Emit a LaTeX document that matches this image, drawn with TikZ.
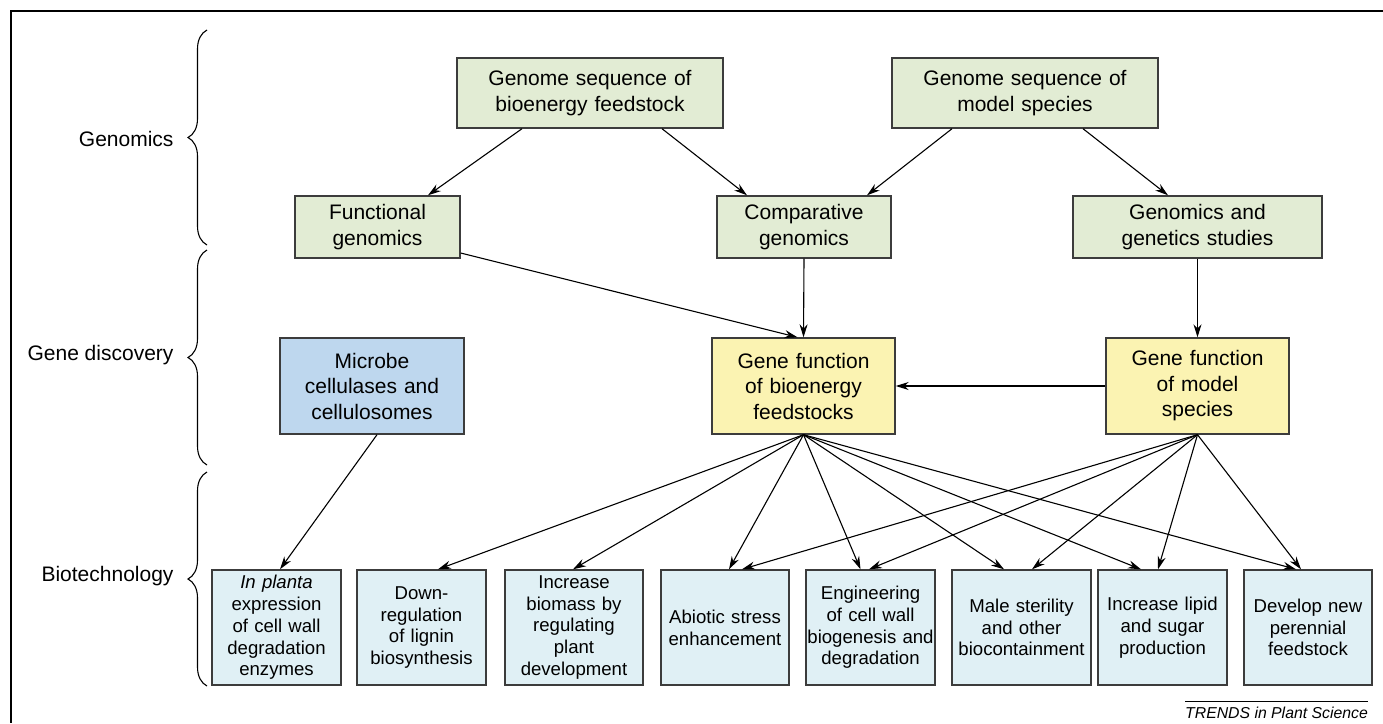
\documentclass[tikz,border=0pt]{standalone}
\usepackage{fontspec}
\setmainfont{Liberation Sans}
\usepackage[x11names]{xcolor}
\usetikzlibrary{arrows.meta}
\usetikzlibrary{decorations.pathreplacing}

\definecolor{genomegreen}{RGB}{226,236,212}
\definecolor{geneyellow}{RGB}{251,243,178}
\definecolor{microbeblue}{RGB}{190,215,238}
\definecolor{leafblue}{RGB}{224,240,245}
\definecolor{boxline}{RGB}{60,60,60}

\newcommand{\bigfont}{\fontsize{21}{25.5}\selectfont}
\newcommand{\smallfont}{\fontsize{18.6}{21.7}\selectfont}

\begin{document}
\begin{tikzpicture}[x=1pt,y=-1pt,
    box/.style={draw=boxline,line width=1.4pt,align=center,inner sep=0pt,font=\bigfont},
    seqbox/.style={box,fill=genomegreen},
    funcbox/.style={box,fill=geneyellow},
    leafbox/.style={draw=boxline,line width=1.4pt,fill=leafblue,align=center,
        inner sep=0pt,font=\smallfont,minimum height=115pt},
    arr/.style={-{Stealth[length=13pt,width=8pt]},line width=1.1pt},
    grp/.style={decorate,decoration={brace,amplitude=19pt},line width=1.1pt}]
        \useasboundingbox (0,0) rectangle (1383,723);
        \draw[line width=1.5pt] (10,11) -- (1383,11); \draw[line width=1.5pt]
        (11,11) -- (11,723);

        % row labels and braces
        \node[font=\bigfont,anchor=east] (labgenomics) at (177,139) {Genomics};
        \node[font=\bigfont,anchor=east] (labdiscovery) at (177,355) {Gene
            discovery}; \node[font=\bigfont,anchor=east] (labbiotech) at
        (177,576) {Biotechnology};
        \draw[grp] (207,245) -- (207,30); \draw[grp] (207,465) -- (207,250);
        \draw[grp] (207,686) -- (207,472);

        % genomics
        \node[seqbox,text width=266,minimum height=70] (seqbio) at (590,93)
        {Genome sequence of\\bioenergy feedstock}; \node[seqbox,text
        width=266,minimum height=70] (seqmodel) at (1025,93) {Genome sequence
            of\\model species}; \node[seqbox,text width=165,minimum height=62]
        (functional) at (377.5,227) {Functional\\genomics}; \node[seqbox,text
        width=174,minimum height=62] (comparative) at (804,227)
        {Comparative\\genomics}; \node[seqbox,text width=249,minimum height=62]
        (studies) at (1197.5,227) {Genomics and\\genetics studies};

        % gene discovery
        \node[box,fill=microbeblue,text width=184,minimum height=96] (microbe)
        at (372,386) {Microbe\\cellulases and\\cellulosomes}; \node[funcbox,text
        width=183,minimum height=96] (funcbio) at (803.5,386) {Gene
            function\\of bioenergy\\feedstocks}; \node[funcbox,text
        width=183,minimum height=96] (funcmodel) at (1197.5,386) {Gene
            function\\of model\\species};

        % biotechnology
        \node[leafbox,text width=129] (inplanta) at (276.5,627.5) {\textit{In
                planta}\\expression\\of cell wall\\degradation\\enzymes};
        \node[leafbox,text width=129] (lignin) at (421.5,627.5)
        {Down-\\regulation\\of lignin\\biosynthesis}; \node[leafbox,text
        width=138] (biomass) at (574,627.5) {Increase\\biomass by\\regulating\\plant\\development};
        \node[leafbox,text width=128] (abiotic) at (725,627.5) {Abiotic
            stress\\enhancement}; \node[leafbox,text width=129] (cellwall) at
        (870.5,627.5) {Engineering\\of cell wall\\biogenesis and\\degradation};
        \node[leafbox,text width=139] (sterility) at (1021.5,627.5) {Male
            sterility\\and other\\biocontainment}; \node[leafbox,text width=129]
        (lipid) at (1162.5,627.5) {Increase lipid\\and sugar\\production};
        \node[leafbox,text width=128] (perennial) at (1308,627.5) {Develop
            new\\perennial\\feedstock};

        \node[font=\fontsize{15.8}{18}\selectfont\itshape,inner sep=0pt]
        (trends) at (1276.5,713) {TRENDS in Plant Science};
        \draw[line width=1pt] (1185,701) -- (1368,701);

        % connectors
        \draw[arr] ([xshift=-68]seqbio.south) -- ([xshift=50.5]functional.north);
        \draw[arr] ([xshift=72]seqbio.south) -- ([xshift=-57]comparative.north);
        \draw[arr] ([xshift=-73]seqmodel.south) -- ([xshift=63]comparative.north);
        \draw[arr] ([xshift=58]seqmodel.south) -- ([xshift=-29.5]studies.north);
        \draw[arr] ([yshift=-26]functional.east) -- ([xshift=-6]funcbio.north);
        \draw[arr] (comparative.south) -- (funcbio.north);
        \draw[arr] (studies.south) -- (funcmodel.north);
        \draw[arr] (funcmodel.west) -- (funcbio.east);
        \draw[arr] ([xshift=5]microbe.south) -- ([xshift=3.5]inplanta.north);

        \draw[arr] (funcbio.south) -- ([xshift=16.5]lignin.north);
        \draw[arr] (funcbio.south) -- ([xshift=-1]biomass.north);
        \draw[arr] (funcbio.south) -- ([xshift=4]abiotic.north);
        \draw[arr] (funcbio.south) -- ([xshift=-10]cellwall.north);
        \draw[arr] (funcbio.south) -- ([xshift=-17.5]sterility.north);
        \draw[arr] (funcbio.south) -- ([xshift=-21.5]lipid.north);
        \draw[arr] (funcbio.south) -- ([xshift=-12]perennial.north);

        \draw[arr] (funcmodel.south) -- ([xshift=17]abiotic.north);
        \draw[arr] (funcmodel.south) -- ([xshift=-1.5]cellwall.north);
        \draw[arr] (funcmodel.south) -- ([xshift=10.5]sterility.north);
        \draw[arr] (funcmodel.south) -- ([xshift=-4.5]lipid.north);
        \draw[arr] (funcmodel.south) -- ([xshift=-7]perennial.north);
    \end{tikzpicture}
\end{document}
